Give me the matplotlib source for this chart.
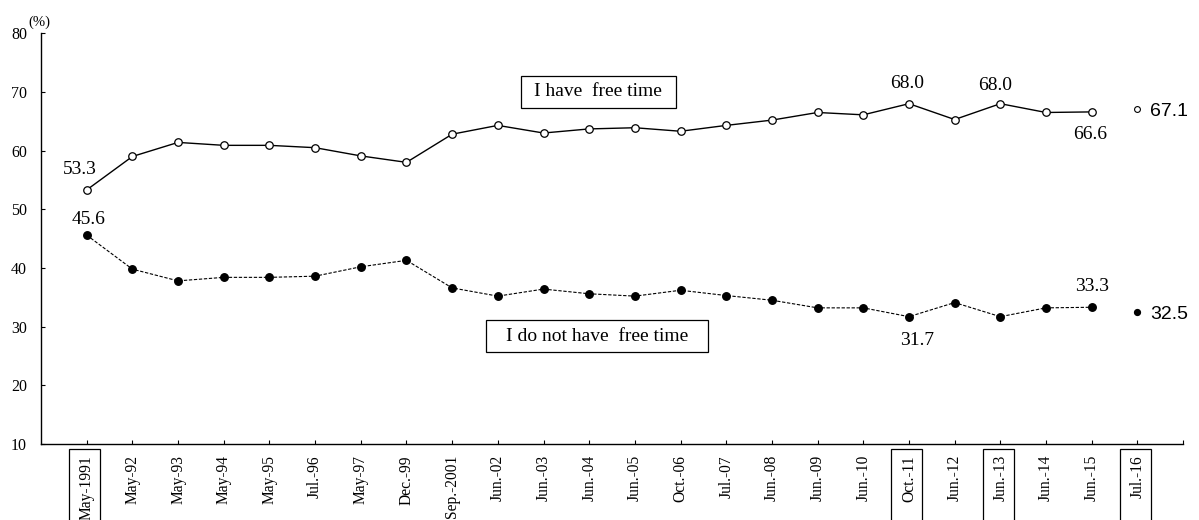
import matplotlib
matplotlib.use("Agg")
import matplotlib.pyplot as plt
from matplotlib.patches import Rectangle
from matplotlib.transforms import blended_transform_factory

categories = ['May-1991', 'May-92', 'May-93', 'May-94', 'May-95', 'Jul.-96', 'May-97',
              'Dec.-99', 'Sep.-2001', 'Jun.-02', 'Jun.-03', 'Jun.-04', 'Jun.-05',
              'Oct.-06', 'Jul.-07', 'Jun.-08', 'Jun.-09', 'Jun.-10', 'Oct.-11',
              'Jun.-12', 'Jun.-13', 'Jun.-14', 'Jun.-15', 'Jul.-16']
have_free = [53.3, 59.0, 61.4, 60.9, 60.9, 60.5, 59.1, 58.0, 62.8, 64.3, 63.0, 63.7,
             63.9, 63.3, 64.3, 65.2, 66.5, 66.1, 68.0, 65.3, 68.0, 66.5, 66.6]
no_free = [45.6, 39.8, 37.8, 38.4, 38.4, 38.6, 40.2, 41.3, 36.6, 35.2, 36.4, 35.6,
           35.2, 36.2, 35.3, 34.5, 33.2, 33.2, 31.7, 34.1, 31.7, 33.2, 33.3]
latest_have = 67.1
latest_no = 32.5
boxed_labels = ['May-1991', 'Oct.-11', 'Jun.-13', 'Jul.-16']
yticks = [10, 20, 30, 40, 50, 60, 70, 80]

serif = ['Liberation Serif', 'DejaVu Serif']
sans = ['Liberation Sans', 'DejaVu Sans']

fig = plt.figure(figsize=(11.99, 5.20), dpi=100)
ax = fig.add_axes([0.0342, 0.1462, 0.9525, 0.7898])

xs = list(range(len(have_free)))
ax.plot(xs, have_free, color='black', lw=1.0, marker='o', ms=5.4,
        mfc='white', mec='black', mew=0.9, zorder=3)
ax.plot(xs, no_free, color='black', lw=0.8, ls=(0, (3, 1.5)), marker='o', ms=5.4,
        mfc='black', mec='black', zorder=3)
last = len(categories) - 1
ax.plot([last], [latest_have], ls='none', marker='o', ms=4.2, mfc='white',
        mec='black', mew=0.8, zorder=3)
ax.plot([last], [latest_no], ls='none', marker='o', ms=4.2, mfc='black',
        mec='black', zorder=3)

ax.set_xlim(-1, 24)
ax.set_ylim(10, 80)
ax.set_yticks(yticks)
ax.set_xticks(range(len(categories)))
ax.set_xticklabels(categories, rotation=90, family=serif, fontsize=11.2)
for t in ax.get_yticklabels():
    t.set_family(serif)
    t.set_fontsize(11.5)
ax.set_xticks([24], minor=True)
ax.tick_params(axis='x', which='both', direction='in', length=3, width=0.8, pad=8)
ax.tick_params(axis='y', direction='in', length=3, width=0.8, pad=10)
for s in ['top', 'right']:
    ax.spines[s].set_visible(False)
for s in ['left', 'bottom']:
    ax.spines[s].set_linewidth(1.0)

# boxes around selected tick labels
trans = blended_transform_factory(ax.transData, ax.transAxes)
for i, c in enumerate(categories):
    if c in boxed_labels:
        ax.add_patch(Rectangle((i - 0.39, -0.22), 0.68, 0.208, transform=trans,
                               fill=False, ec='black', lw=0.9, clip_on=False))

ax.text(-0.001, 1.026, '(%)', transform=ax.transAxes, ha='center', va='center',
        family=serif, fontsize=10.5)

def lab(x, y, s, dx, dy, ha='center', fam=serif, size=14):
    ax.annotate(s, (x, y), xytext=(dx, dy), textcoords='offset points',
                ha=ha, va='center', family=fam, fontsize=size)

lab(0, have_free[0], '53.3', -5, 15)
lab(0, no_free[0], '45.6', 1.5, 11)
lab(18, have_free[18], '68.0', -1.5, 14.5)
lab(20, have_free[20], '68.0', -4, 13)
lab(22, have_free[22], '66.6', -1, -16)
lab(22, no_free[22], '33.3', 0, 15)
lab(18, no_free[18], '31.7', 6, -17)
lab(last, latest_have, '67.1', 9, -2, ha='left', fam=sans, size=14)
lab(last, latest_no, '32.5', 9, -1.5, ha='left', fam=sans, size=14)

# series name boxes
ax.add_patch(Rectangle((9.50, 67.22), 3.40, 5.56, fill=False, ec='black', lw=0.9))
ax.text(11.2, 70.0, 'I have  free time', ha='center', va='center', family=serif, fontsize=14)
ax.add_patch(Rectangle((8.75, 25.63), 4.84, 5.50, fill=False, ec='black', lw=0.9))
ax.text(11.17, 28.38, 'I do not have  free time', ha='center', va='center', family=serif, fontsize=14)

fig.savefig('out.png', dpi=100)
